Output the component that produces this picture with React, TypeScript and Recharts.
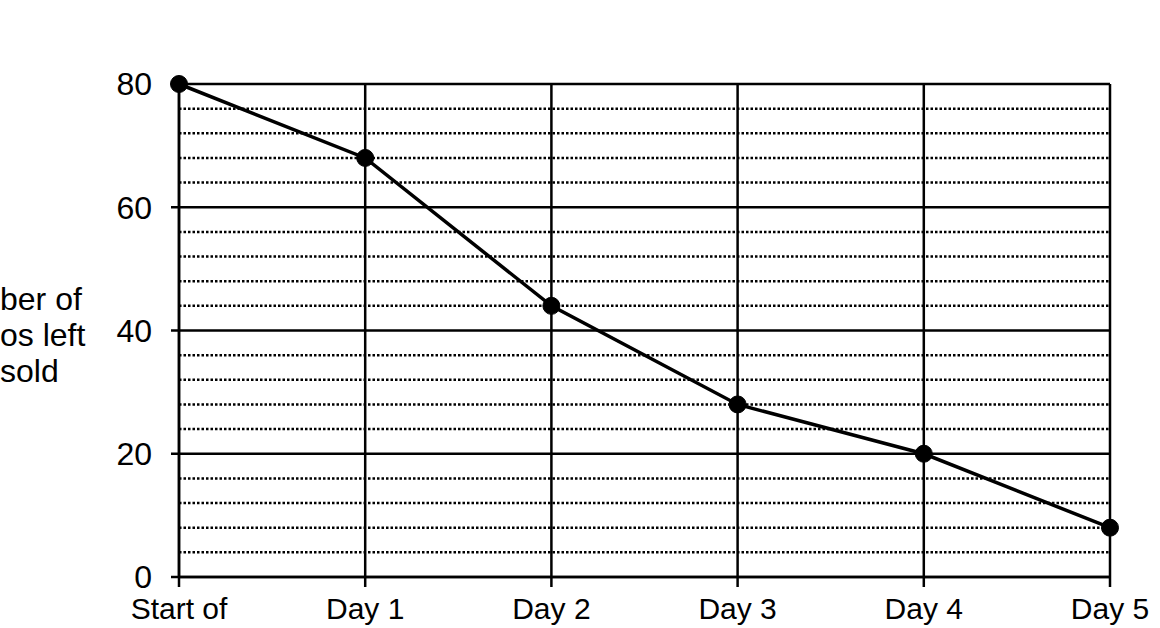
import React from 'react';
import { LineChart, Line, XAxis, YAxis, CartesianGrid, ReferenceLine } from 'recharts';

const categories = ['Start of', 'Day 1', 'Day 2', 'Day 3', 'Day 4', 'Day 5'];
const cupsLeft = [80, 68, 44, 28, 20, 8];
const yTicks = [0, 20, 40, 60, 80];
const minorGrid = [4, 8, 12, 16, 24, 28, 32, 36, 44, 48, 52, 56, 64, 68, 72, 76];
const yLabelLines = ['ber of', 'os left', 'sold'];

const data = categories.map((c, i) => ({ name: c, value: cupsLeft[i] }));

const FONT = '"Liberation Sans", Arial, sans-serif';

export default function App() {
  return (
    <div style={{ position: 'absolute', left: 0, top: 0, width: 1160, height: 628, background: '#fff', fontFamily: FONT }}>
      <div style={{ position: 'absolute', left: 0, top: 281, fontSize: 32, lineHeight: '36px', color: '#000' }}>
        {yLabelLines.map((l) => (
          <div key={l}>{l}</div>
        ))}
      </div>
      <LineChart
        width={1160}
        height={628}
        data={data}
        margin={{ top: 84, right: 50, bottom: 11, left: 119 }}
      >
        <CartesianGrid stroke="#000" strokeWidth={2.5} horizontal={true} vertical={true} />
        {minorGrid.map((v) => (
          <ReferenceLine key={v} y={v} stroke="#000" strokeWidth={2.5} strokeDasharray="2.5 2" />
        ))}
        <XAxis
          dataKey="name"
          height={40}
          axisLine={{ stroke: '#000', strokeWidth: 2.5 }}
          tickLine={{ stroke: '#000', strokeWidth: 2.5 }}
          tickSize={10}
          tickMargin={11}
          tick={{ fill: '#000', fontSize: 30, fontFamily: FONT }}
          interval={0}
        />
        <YAxis
          width={60}
          domain={[0, 80]}
          ticks={yTicks}
          axisLine={{ stroke: '#000', strokeWidth: 2.5 }}
          tickLine={{ stroke: '#000', strokeWidth: 2.5 }}
          tickSize={8}
          tickMargin={19}
          tick={{ fill: '#000', fontSize: 32, fontFamily: FONT }}
        />
        <Line
          type="linear"
          dataKey="value"
          stroke="#000"
          strokeWidth={3.5}
          dot={{ r: 8.5, fill: '#000', stroke: '#000', strokeWidth: 1 }}
          isAnimationActive={false}
        />
      </LineChart>
    </div>
  );
}
